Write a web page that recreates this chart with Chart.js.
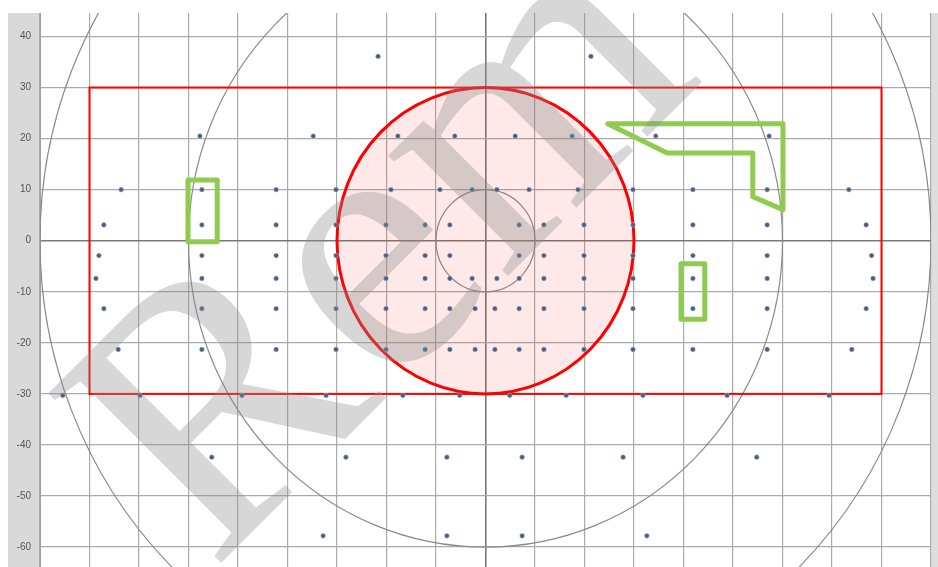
<!DOCTYPE html>
<html>
<head>
<meta charset="utf-8">
<script src="https://cdn.jsdelivr.net/npm/chart.js@4.4.1/dist/chart.umd.min.js"></script>
<style>
    html, body { margin: 0; padding: 0; background: #fff; }
    #wrap { width: 938px; height: 567px; position: relative; }
</style>
</head>
<body>
<div id="wrap"><canvas id="chart"></canvas></div>
<script>
// Axis ranges and tick values
const xMin = -90, xMax = 90;
const yMin = -63.9, yMax = 44.6;
const xTicks = [-90, -80, -70, -60, -50, -40, -30, -20, -10, 0, 10, 20, 30, 40, 50, 60, 70, 80, 90];
const yTicks = [-60, -50, -40, -30, -20, -10, 0, 10, 20, 30, 40];

// Measurement points, one y level per row
const rowY = [36.1, 20.5, 10.0, 3.1, -2.9, -7.4, -13.3, -21.3, -30.3, -42.4, -57.8];
const rowX = [
    [-21.7, 21.3],
    [-57.7, -34.8, -17.7, -6.2, 6.0, 17.5, 34.4, 57.3],
    [-73.6, -57.3, -42.3, -30.2, -19.1, -9.2, -2.7, 2.3, 8.8, 18.7, 29.8, 41.9, 56.9, 73.4],
    [-77.1, -57.3, -42.3, -30.2, -20.1, -12.2, -7.2, 6.8, 11.8, 19.9, 29.8, 41.9, 56.9, 76.9],
    [-78.1, -57.3, -42.3, -30.2, -20.1, -12.2, -7.2, 6.8, 11.8, 19.9, 29.8, 41.9, 56.9, 78.0],
    [-78.7, -57.3, -42.3, -30.2, -20.1, -12.2, -7.2, -2.7, 2.3, 6.8, 11.8, 19.9, 29.8, 41.9, 56.9, 78.3],
    [-77.1, -57.3, -42.3, -30.2, -20.1, -12.2, -7.2, -2.1, 1.9, 6.8, 11.8, 19.9, 29.8, 41.9, 56.9, 76.9],
    [-74.2, -57.3, -42.3, -30.2, -20.1, -12.2, -7.2, -2.1, 1.9, 6.8, 11.8, 19.9, 29.8, 41.9, 56.9, 74.0],
    [-85.4, -69.8, -49.2, -32.2, -16.7, -5.2, 4.9, 16.3, 31.8, 48.8, 69.4],
    [-55.3, -28.2, -7.8, 7.4, 27.8, 54.8],
    [-32.8, -7.8, 7.4, 32.6]
];

// Overlay shapes (data units)
const grayCircleRadii = [10, 60, 90];
const redCircleRadius = 30;
const redRect = [-80, -30, 80, 30];
const greenBoxA = [-60.1, -0.2, -54.2, 11.9];
const greenBoxB = [39.5, -15.4, 44.3, -4.5];
const greenPathX = [24.7, 60.1, 60.1, 54.0, 54.0, 36.7];
const greenPathY = [22.9, 22.9, 6.1, 8.6, 17.2, 17.2];

const watermarkText = 'Rem';

const points = [];
rowY.forEach((y, i) => {
    rowX[i].forEach(x => points.push({ x: x, y: y }));
});

const overlayPlugin = {
    id: 'overlay',
    beforeDraw(chart) {
        const { ctx, chartArea } = chart;
        ctx.save();
        ctx.fillStyle = '#ffffff';
        ctx.fillRect(0, 0, chart.width, chart.height);
        ctx.fillStyle = '#d9d9d9';
        ctx.fillRect(8, chartArea.top, chartArea.left - 8, chart.height - chartArea.top);
        ctx.fillStyle = '#dedede';
        ctx.fillRect(chartArea.right, chartArea.top, chart.width - chartArea.right, chart.height - chartArea.top);
        ctx.restore();
    },
    beforeDatasetsDraw(chart) {
        const { ctx, chartArea, scales } = chart;
        const xs = scales.x, ys = scales.y;
        const cx = xs.getPixelForValue(0), cy = ys.getPixelForValue(0);
        ctx.save();
        ctx.beginPath();
        ctx.rect(chartArea.left, chartArea.top, chartArea.right - chartArea.left, chartArea.bottom - chartArea.top);
        ctx.clip();

        // gray rings
        ctx.strokeStyle = '#8a8a8a';
        ctx.lineWidth = 1.2;
        grayCircleRadii.forEach(r => {
            const rx = xs.getPixelForValue(r) - cx;
            const ry = cy - ys.getPixelForValue(r);
            ctx.beginPath();
            ctx.ellipse(cx, cy, rx, ry, 0, 0, Math.PI * 2);
            ctx.stroke();
        });

        // red rectangle
        const x0 = xs.getPixelForValue(redRect[0]), y0 = ys.getPixelForValue(redRect[1]);
        const x1 = xs.getPixelForValue(redRect[2]), y1 = ys.getPixelForValue(redRect[3]);
        ctx.strokeStyle = '#ff0000';
        ctx.lineWidth = 2;
        ctx.strokeRect(x0, y1, x1 - x0, y0 - y1);

        // red circle
        const rrx = xs.getPixelForValue(redCircleRadius) - cx;
        const rry = cy - ys.getPixelForValue(redCircleRadius);
        ctx.beginPath();
        ctx.ellipse(cx, cy, rrx, rry, 0, 0, Math.PI * 2);
        ctx.fillStyle = 'rgba(255, 0, 0, 0.09)';
        ctx.fill();
        ctx.lineWidth = 3;
        ctx.stroke();
        ctx.restore();
    },
    afterDatasetsDraw(chart) {
        const { ctx, scales } = chart;
        const xs = scales.x, ys = scales.y;
        ctx.save();
        ctx.strokeStyle = '#8fcb4f';
        ctx.lineWidth = 5;
        ctx.lineJoin = 'round';
        [greenBoxA, greenBoxB].forEach(b => {
            const bx0 = xs.getPixelForValue(b[0]), by0 = ys.getPixelForValue(b[1]);
            const bx1 = xs.getPixelForValue(b[2]), by1 = ys.getPixelForValue(b[3]);
            ctx.strokeRect(bx0, by1, bx1 - bx0, by0 - by1);
        });
        ctx.beginPath();
        greenPathX.forEach((x, i) => {
            const px = xs.getPixelForValue(x), py = ys.getPixelForValue(greenPathY[i]);
            if (i === 0) ctx.moveTo(px, py); else ctx.lineTo(px, py);
        });
        ctx.closePath();
        ctx.stroke();

        // watermark
        ctx.translate(212, 572);
        ctx.rotate(-45 * Math.PI / 180);
        ctx.font = '370px "Liberation Serif", "DejaVu Serif", serif';
        ctx.fillStyle = 'rgba(140, 140, 140, 0.35)';
        ctx.textBaseline = 'alphabetic';
        ctx.fillText(watermarkText, 0, 0);
        ctx.restore();
    }
};

const gridColor = (c) => (c.tick && c.tick.value === 0) ? '#7a7a7a' : '#ababab';
const gridWidth = (c) => (c.tick && c.tick.value === 0) ? 1.6 : 1.2;

const ctx = document.getElementById('chart').getContext('2d');
const chart = new Chart(ctx, {
    type: 'scatter',
    data: {
        datasets: [{
            data: points,
            pointRadius: 2.4,
            pointHoverRadius: 2.4,
            pointBackgroundColor: '#4d5e7d',
            pointBorderColor: 'rgba(160, 190, 225, 0.5)',
            pointBorderWidth: 1
        }]
    },
    options: {
        responsive: true,
        maintainAspectRatio: false,
        animation: false,
        layout: { autoPadding: false, padding: { left: 8, top: 13, right: 7, bottom: 0 } },
        plugins: {
            legend: { display: false },
            tooltip: { enabled: false }
        },
        scales: {
            x: {
                type: 'linear',
                min: xMin,
                max: xMax,
                afterBuildTicks: s => { s.ticks = xTicks.map(v => ({ value: v })); },
                afterFit: s => {
                    s.height = 0;
                    s.paddingLeft = 0; s.paddingRight = 0; s.paddingTop = 0; s.paddingBottom = 0;
                },
                ticks: { display: false },
                grid: { color: gridColor, lineWidth: gridWidth, drawTicks: false },
                border: { display: false }
            },
            y: {
                type: 'linear',
                min: yMin,
                max: yMax,
                afterBuildTicks: s => { s.ticks = yTicks.map(v => ({ value: v })); },
                afterFit: s => {
                    s.width = 32;
                    s.paddingLeft = 0; s.paddingRight = 0; s.paddingTop = 0; s.paddingBottom = 0;
                },
                ticks: {
                    padding: 9,
                    color: '#555555',
                    font: { family: '"Liberation Sans", Arial, sans-serif', size: 10 }
                },
                grid: { color: gridColor, lineWidth: gridWidth, drawTicks: false },
                border: { display: true, color: '#a0a0a0', width: 1 }
            }
        }
    },
    plugins: [overlayPlugin]
});
</script>
</body>
</html>
